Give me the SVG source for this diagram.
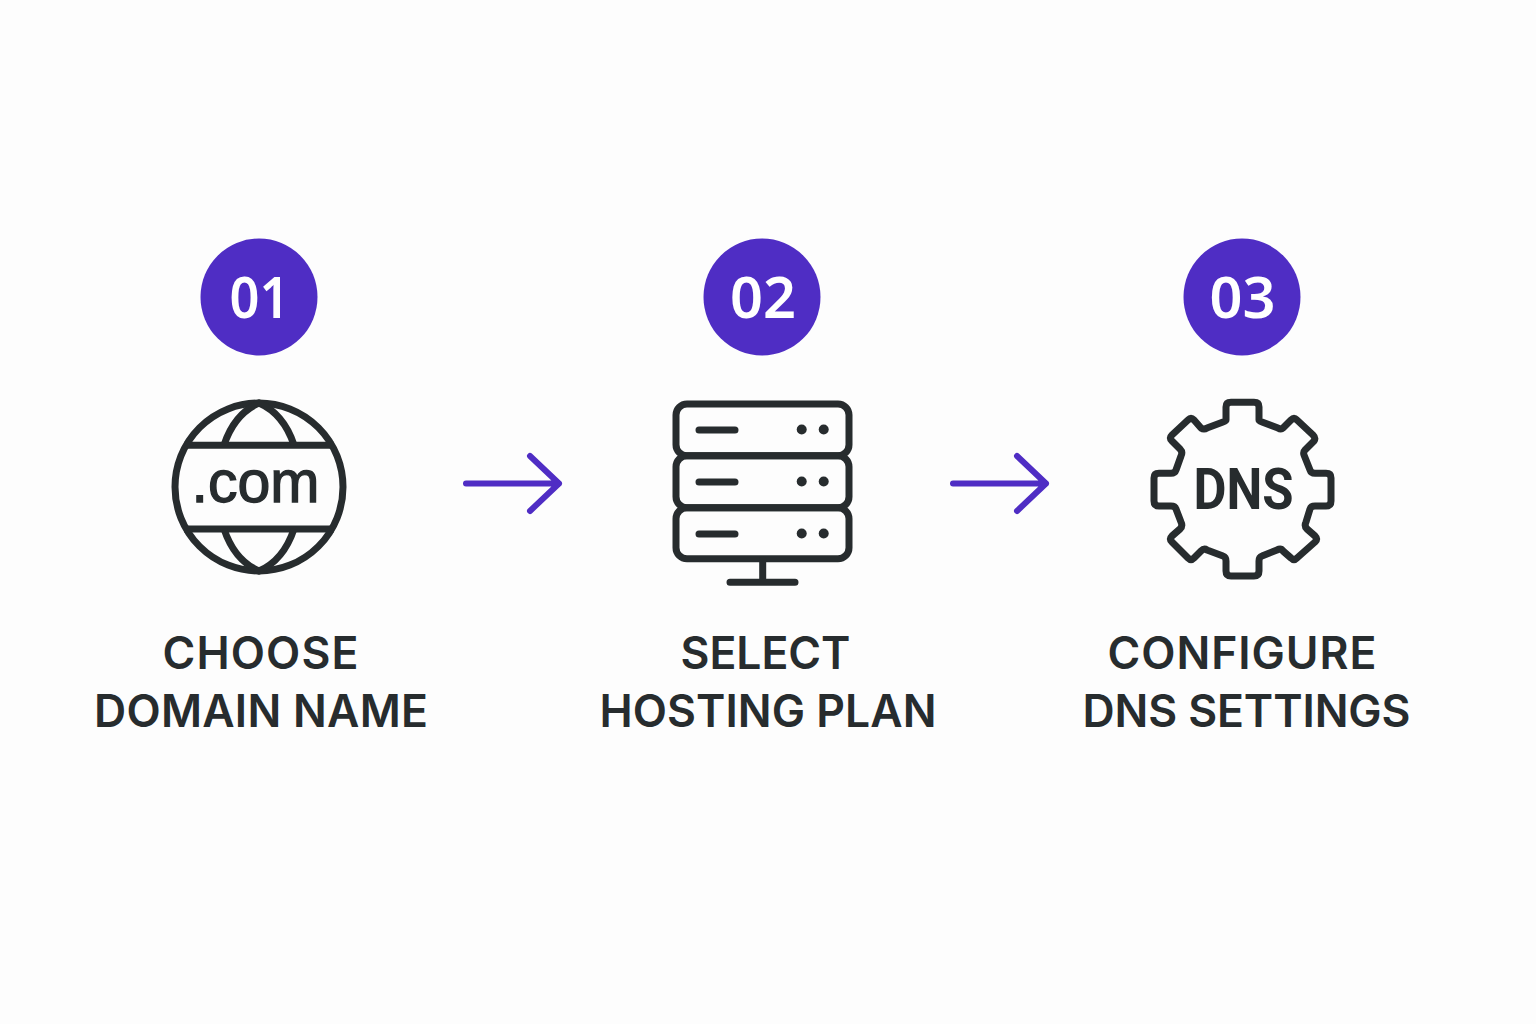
<svg xmlns="http://www.w3.org/2000/svg" width="1536" height="1024" viewBox="0 0 1536 1024">
<style>
.badge{fill:#4f2dc4}
.num{font-family:"Noto Sans","Open Sans",sans-serif;font-weight:600;font-size:57px;fill:#fff;text-anchor:middle}
.lbl{font-family:Inter,"Liberation Sans",sans-serif;font-weight:600;font-size:44.500px;fill:#272c2e;text-anchor:middle}
.ic{fill:none;stroke:#272c2e;stroke-width:7;stroke-linecap:round;stroke-linejoin:round}
.chord{fill:none;stroke:#272c2e;stroke-width:7}
.dot{fill:#272c2e}
.arrow{fill:none;stroke:#4f2dc4;stroke-width:6;stroke-linecap:round;stroke-linejoin:round}
</style>
<rect width="1536" height="1024" fill="#fdfdfd"/>
<g id="connectors">
<path class="arrow" d="M466 483.500H559M530 456L559 483.500L530 511"/>
<path class="arrow" d="M953 483.500H1046M1017 456L1046 483.500L1017 511"/>
</g>
<g id="step1">
<circle class="badge" cx="259" cy="297" r="58.500"/>
<text class="num" x="259.500" y="317.500" textLength="60" lengthAdjust="spacingAndGlyphs">01</text>
<circle class="ic" cx="259" cy="487" r="84"/>
<path class="chord" d="M184 445.300H334M184 529H334"/>
<path class="chord" d="M224 445C231 424 243 410 259 403C275 410 287 424 294 445M224 529C231 550 243 564 259 571C275 564 287 550 294 529"/>
<text x="255.500" y="502" font-family="'Liberation Sans',Arial,sans-serif" font-size="59" fill="#272c2e" stroke="#272c2e" stroke-width="1.300" text-anchor="middle" textLength="128" lengthAdjust="spacingAndGlyphs">.com</text>
<text class="lbl" x="260.500" y="668.500" textLength="196">CHOOSE</text>
<text class="lbl" x="261" y="726.500" textLength="334">DOMAIN NAME</text>
</g>
<g id="step2">
<circle class="badge" cx="762" cy="297" r="58.500"/>
<text class="num" x="763" y="317.500" textLength="66" lengthAdjust="spacingAndGlyphs">02</text>
<rect class="ic" x="676" y="404" width="173" height="51.700" rx="11"/>
<rect class="ic" x="676" y="455.700" width="173" height="52" rx="11"/>
<rect class="ic" x="676" y="507.700" width="173" height="51" rx="11"/>
<path class="ic" d="M699 430H735M699 482H735M699 534H735M762.700 560V582M730 582.300H795"/>
<circle class="dot" cx="801.700" cy="429.500" r="5"/><circle class="dot" cx="823.700" cy="429.500" r="5"/>
<circle class="dot" cx="801.700" cy="481.500" r="5"/><circle class="dot" cx="823.700" cy="481.500" r="5"/>
<circle class="dot" cx="801.700" cy="533.500" r="5"/><circle class="dot" cx="823.700" cy="533.500" r="5"/>
<text class="lbl" x="765.500" y="668.500" textLength="170">SELECT</text>
<text class="lbl" x="768" y="726.500" textLength="337">HOSTING PLAN</text>
</g>
<g id="step3">
<circle class="badge" cx="1242" cy="297" r="58.500"/>
<text class="num" x="1242.500" y="317.500" textLength="66" lengthAdjust="spacingAndGlyphs">03</text>
<path class="ic" d="M1226 420V407Q1226 402.300 1231 402.300H1254Q1259 402.300 1259 407V420Q1259 421 1262 422L1278 428Q1281 430 1283 428L1291 420Q1294 417 1297 420L1313 435Q1316 438 1314 441L1305 450Q1303 452 1304 455L1310 470Q1311 473.300 1315 473.300H1326Q1331 473.300 1331 478V501Q1331 506 1326 506H1315Q1311 506 1310 509L1306 522Q1304 526 1307 529L1315 536Q1318 539 1315 542L1297 558Q1294 561 1291 558L1283 551Q1281 548 1277 550L1262 556Q1259 557 1259 561V571Q1259 576 1254 576H1231Q1226 576 1226 571V561Q1226 557 1223 556L1207 550Q1204 548 1201 551L1194 558Q1191 561 1188 558L1172 542Q1169 539 1172 536L1180 529Q1183 526 1181 522L1176 509Q1175 506 1171 506H1159Q1154 506 1154 501V478Q1154 473.300 1159 473.300H1171Q1175 473.300 1176 470L1181 456Q1183 452 1180 449L1172 441Q1169 438 1172 435L1188 420Q1191 417 1194 420L1201 428Q1204 430 1207 428L1223 422Q1226 421 1226 420Z"/>
<text x="1243.500" y="509.300" font-family="Roboto,'Liberation Sans',sans-serif" font-weight="700" font-size="58" fill="#272c2e" text-anchor="middle" textLength="100" lengthAdjust="spacingAndGlyphs">DNS</text>
<text class="lbl" x="1242" y="668.500" textLength="269">CONFIGURE</text>
<text class="lbl" x="1246.500" y="726.500" textLength="328">DNS SETTINGS</text>
</g>
</svg>
